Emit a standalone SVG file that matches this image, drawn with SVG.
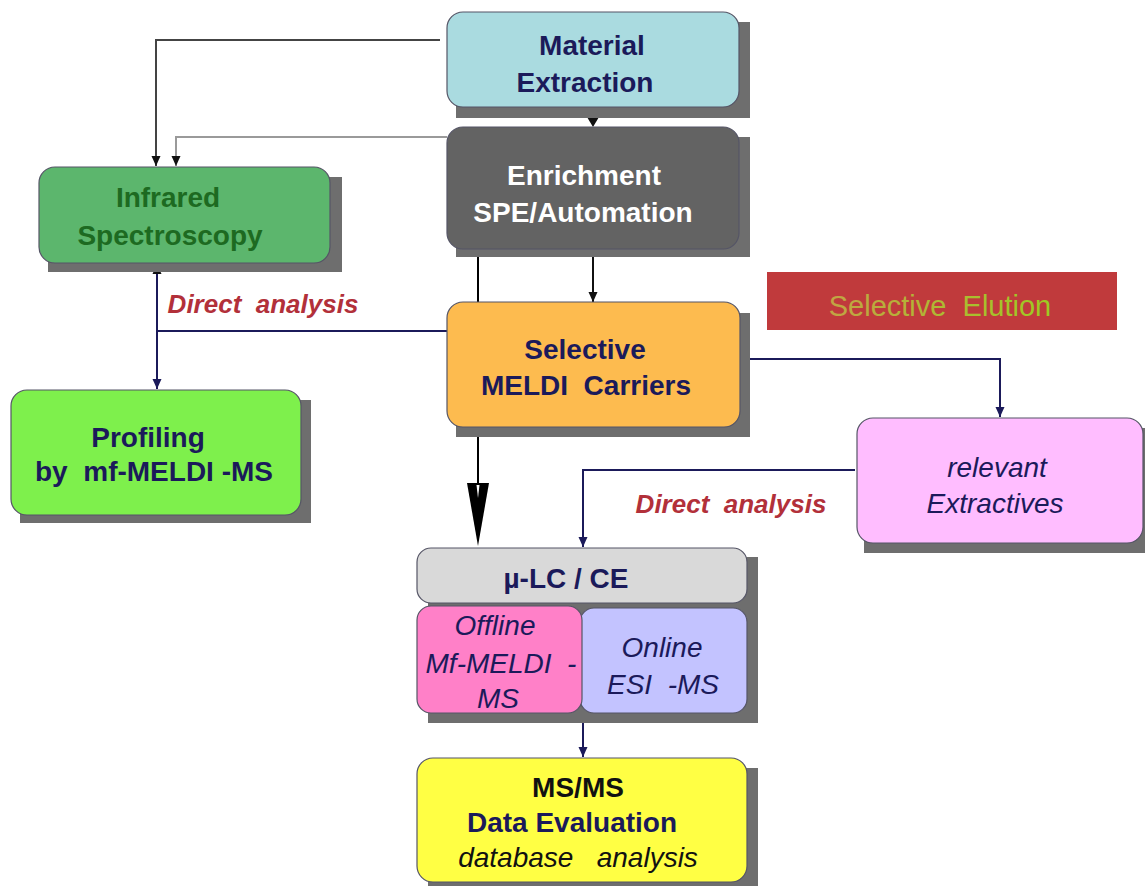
<svg xmlns="http://www.w3.org/2000/svg" width="1145" height="886" viewBox="0 0 1145 886">
<style>
.sh{fill:#6e6e6e}
.bx{stroke:#556;stroke-width:1.2}
text{font-family:"Liberation Sans","DejaVu Sans",sans-serif;text-anchor:middle;white-space:pre}
.b{font-weight:bold;font-size:28px}
.i{font-style:italic;font-size:28px}
.navy{fill:#1b1a5a}
.da{font-weight:bold;font-style:italic;font-size:26px;fill:#b2303a}
.ln{fill:none;stroke-width:2}
</style>
<defs>
<marker id="ah" viewBox="0 0 10 10" refX="10" refY="5" markerWidth="10" markerHeight="10" markerUnits="userSpaceOnUse" orient="auto-start-reverse"><path d="M0,0.5 L10,5 L0,9.5 Z" fill="#111"/></marker>
<marker id="an" viewBox="0 0 10 10" refX="10" refY="5" markerWidth="10" markerHeight="10" markerUnits="userSpaceOnUse" orient="auto-start-reverse"><path d="M0,0.5 L10,5 L0,9.5 Z" fill="#1b1a5a"/></marker>
<linearGradient id="eg" gradientUnits="userSpaceOnUse" x1="828" y1="0" x2="1052" y2="0"><stop offset="0" stop-color="#c2a444"/><stop offset="1" stop-color="#9ccc22"/></linearGradient>
</defs>

<g id="connectors">
<path class="ln" d="M440,40 H156 V166" stroke="#444" stroke-width="1.5" marker-end="url(#ah)"/>
<path class="ln" d="M447,137 H176 V166" stroke="#9a9a9a" stroke-width="2" marker-end="url(#ah)"/>
<path d="M587,117 L599,117 L593,127 Z" fill="#111"/>
<path class="ln" d="M593,256 V302" stroke="#111" marker-end="url(#ah)"/>
<path class="ln" d="M478,256 V492" stroke="#000" stroke-width="4"/>
<path d="M467,483 L489,483 L478,546 Z" fill="#000"/>
<path d="M476.5,485 L479.5,485 L478,498 Z" fill="#fff"/>
<path class="ln" d="M447,331 H157" stroke="#1b1a5a"/>
<path class="ln" d="M157,264 V389" stroke="#1b1a5a" marker-start="url(#ah)" marker-end="url(#an)"/>
<path class="ln" d="M748,359 H1000 V417" stroke="#1b1a5a" marker-end="url(#an)"/>
<path class="ln" d="M855,470 H583 V547" stroke="#1b1a5a" marker-end="url(#an)"/>
<path class="ln" d="M583,713 V757" stroke="#1b1a5a" marker-end="url(#an)"/>
</g>

<g id="material-extraction">
<rect class="sh" x="456" y="22" width="294" height="96"/>
<rect class="bx" x="447" y="12" width="292" height="95" rx="16" fill="#aadbe0"/>
<text class="b navy" x="592" y="55">Material</text>
<text class="b navy" x="585" y="92">Extraction</text>
</g>

<g id="enrichment">
<rect class="sh" x="456" y="137" width="294" height="120"/>
<rect class="bx" x="447" y="127" width="292" height="122" rx="16" fill="#636363"/>
<text class="b" x="584" y="185" fill="#fff">Enrichment</text>
<text class="b" x="583" y="222" fill="#fff">SPE/Automation</text>
</g>

<g id="infrared">
<rect class="sh" x="48" y="177" width="294" height="95"/>
<rect class="bx" x="39" y="167" width="291" height="96" rx="16" fill="#5cb66d"/>
<text class="b" x="168" y="207" fill="#1d6a21">Infrared</text>
<text class="b" x="170" y="245" fill="#1d6a21">Spectroscopy</text>
</g>

<g id="selective-elution">
<rect x="767" y="272" width="350" height="58" fill="#c03a3c"/>
<text x="940" y="316" font-size="29" fill="url(#eg)" font-family="DejaVu Sans, sans-serif">Selective  Elution</text>
</g>

<text class="da" x="263" y="313">Direct  analysis</text>
<text class="da" x="731" y="513">Direct  analysis</text>

<g id="selective-meldi">
<rect class="sh" x="456" y="313" width="294" height="124"/>
<rect class="bx" x="447" y="302" width="293" height="125" rx="16" fill="#fdbb4f"/>
<text class="b navy" x="585" y="359">Selective</text>
<text class="b navy" x="586" y="395">MELDI  Carriers</text>
</g>

<g id="profiling">
<rect class="sh" x="20" y="400" width="291" height="123"/>
<rect class="bx" x="11" y="390" width="290" height="125" rx="16" fill="#7ef04c"/>
<text class="b navy" x="148" y="447">Profiling</text>
<text class="b navy" x="154" y="481">by  mf-MELDI -MS</text>
</g>

<g id="relevant-extractives">
<rect class="sh" x="864" y="428" width="281" height="125"/>
<rect class="bx" x="857" y="418" width="286" height="125" rx="16" fill="#ffbdff"/>
<text class="i navy" x="997" y="477">relevant</text>
<text class="i navy" x="995" y="513">Extractives</text>
</g>

<g id="lc-ce">
<rect class="sh" x="428" y="557" width="330" height="166"/>
<rect class="bx" x="417" y="548" width="330" height="55" rx="14" fill="#d9d9d9"/>
<text class="b navy" x="566" y="588">µ-LC / CE</text>
</g>

<g id="online">
<rect class="bx" x="580" y="608" width="167" height="105" rx="14" fill="#c3c3ff"/>
<text class="i navy" x="662" y="657">Online</text>
<text class="i navy" x="663" y="694">ESI  -MS</text>
</g>

<g id="offline">
<rect class="bx" x="417" y="606" width="165" height="107" rx="14" fill="#ff80c8"/>
<text class="i navy" x="495" y="635">Offline</text>
<text class="i navy" x="501" y="673">Mf-MELDI  -</text>
<text class="i navy" x="498" y="708">MS</text>
</g>

<g id="msms">
<rect class="sh" x="428" y="768" width="330" height="118"/>
<rect class="bx" x="417" y="758" width="330" height="124" rx="16" fill="#ffff44"/>
<text class="b" x="578" y="797" fill="#111">MS/MS</text>
<text class="b navy" x="572" y="832">Data Evaluation</text>
<text class="i" x="578" y="867" fill="#111">database   analysis</text>
</g>
</svg>
